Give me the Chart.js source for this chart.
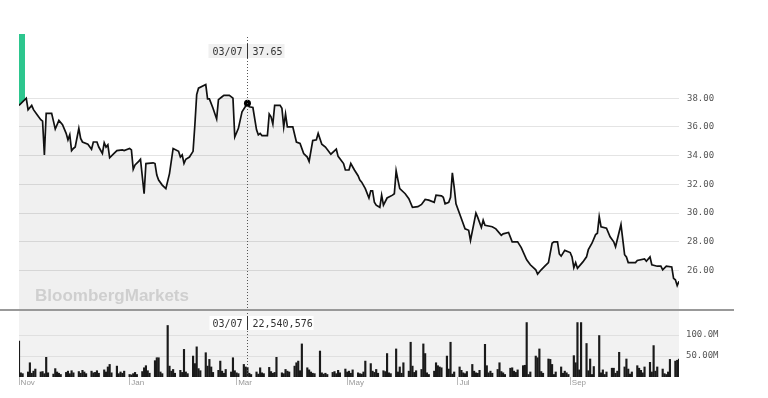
<!DOCTYPE html>
<html lang="en">

<head>
  <meta charset="UTF-8">
  <title>Price and volume</title>
  <style>
    body {
      margin: 0;
      background: #fff;
      width: 768px;
      height: 398px;
      overflow: hidden;
      position: relative;
      font-family: "Liberation Sans", Arial, sans-serif;
    }

    #priceBox {
      position: absolute;
      left: 0;
      top: 0;
      width: 768px;
      height: 310px;
    }

    #volBox {
      position: absolute;
      left: 0;
      top: 310px;
      width: 768px;
      height: 88px;
    }

    .divider {
      position: absolute;
      left: 0;
      top: 309px;
      width: 734px;
      height: 2px;
      background: #999;
    }

    .brand {
      position: absolute;
      left: 35px;
      top: 286px;
      font: bold 17px "Liberation Sans", Arial, sans-serif;
      color: #cfcfcf;
    }
  </style>
  <script src="https://cdn.jsdelivr.net/npm/chart.js"></script>
</head>

<body>
  <div id="priceBox"><canvas id="priceChart"></canvas></div>
  <div id="volBox"><canvas id="volChart"></canvas></div>
  <div class="brand">BloombergMarkets</div>
  <div class="divider"></div>

  <script>
    // days counted from 2017-11-01
    const priceDays = [
      0, 4, 5, 7, 8, 10, 12, 13, 14, 15,
      18, 19, 20, 22, 24, 26, 27, 28, 29, 30,
      31, 33, 34, 35, 38, 40, 41, 43, 44, 46,
      47, 48, 49, 50, 52, 54, 57, 58, 61, 62,
      63, 64, 66, 67, 69, 70, 74, 75, 76, 77,
      79, 81, 83, 85, 88, 89, 90, 91, 92, 94,
      96, 97, 98, 99, 103, 104, 105, 107, 109, 110,
      112, 113, 116, 118, 119, 121, 123, 126, 127, 129,
      131, 132, 133, 134, 137, 138, 139, 140, 141, 144,
      145, 146, 147, 148, 151, 153, 155, 157, 159, 160,
      162, 164, 165, 167, 169, 172, 175, 176, 179, 180,
      182, 183, 185, 187, 188, 189, 191, 193, 194, 195,
      196, 197, 199, 200, 201, 203, 206, 207, 208, 209,
      210, 213, 215, 217, 220, 222, 224, 226, 229, 230,
      233, 234, 235, 237, 238, 239, 240, 241, 243, 244,
      246, 248, 249, 252, 253, 255, 256, 257, 261, 263,
      266, 267, 270, 272, 275, 277, 280, 282, 285, 286,
      288, 290, 292, 294, 295, 297, 298, 299, 301, 304,
      305, 306, 307, 308, 311, 313, 314, 316, 318, 319,
      320, 321, 324, 326, 328, 329, 332, 334, 335, 336,
      340, 341, 345, 346, 348, 349, 352, 354, 355, 357,
      360, 361, 362, 363, 364
    ];
    const prices = [
      37.5, 38.0, 37.2, 37.5, 37.2, 36.85, 36.5, 36.4, 34.05, 36.95,
      36.95, 36.4, 35.85, 36.45, 36.15, 35.55, 35.1, 35.45, 34.35, 34.5,
      34.6, 35.9, 35.2, 34.95, 34.8, 34.45, 34.95, 34.95, 34.6, 34.15,
      34.9, 34.6, 34.75, 33.85, 34.1, 34.35, 34.4, 34.35, 34.5, 34.4,
      33.05, 33.35, 33.6, 33.75, 31.35, 33.45, 33.5, 33.45, 32.65, 32.3,
      31.95, 31.7, 32.75, 34.5, 34.3, 33.9, 34.05, 33.45, 33.75, 33.9,
      34.3, 36.15, 38.25, 38.7, 38.95, 37.95, 37.95, 37.3, 36.55, 37.9,
      38.1, 38.2, 38.2, 38.0, 35.3, 35.9, 37.05, 37.65, 37.4, 37.35,
      35.8, 35.45, 35.55, 35.4, 35.4, 36.9, 36.7, 36.2, 37.5, 37.5,
      37.3, 36.0, 36.9, 36.0, 36.0, 34.95, 34.85, 34.15, 33.9, 33.6,
      35.05, 35.1, 35.55, 34.8, 34.6, 34.1, 34.45, 33.95, 33.45, 33.0,
      33.0, 33.45, 33.0, 32.6, 32.3, 32.15, 31.7, 31.05, 31.55, 31.55,
      30.75, 30.55, 30.4, 31.25, 30.55, 31.05, 31.25, 31.35, 32.95, 32.3,
      31.7, 31.35, 31.0, 30.4, 30.45, 30.6, 30.95, 30.9, 30.75, 31.25,
      31.2, 31.1, 30.65, 30.75, 31.1, 32.8, 31.8, 30.65, 29.95, 29.6,
      28.9, 28.8, 28.1, 30.0, 29.7, 29.0, 29.5, 29.15, 29.05, 28.9,
      28.45, 28.55, 28.65, 28.0, 28.0, 27.6, 26.75, 26.4, 26.05, 25.75,
      26.05, 26.3, 26.55, 27.9, 28.0, 28.0, 27.15, 27.0, 27.4, 27.25,
      26.95, 26.2, 26.55, 26.15, 26.6, 26.95, 27.45, 27.9, 28.5, 28.6,
      29.75, 29.05, 28.95, 28.35, 28.0, 27.65, 29.2, 27.1, 26.95, 26.55,
      26.55, 26.7, 26.8, 26.65, 26.95, 26.4, 26.3, 26.3, 26.05, 26.3,
      26.25, 25.45, 25.35, 24.95, 25.25
    ];

    // daily volume in millions, one per weekday from 2017-11-01 to 2018-10-31
    const volumes = [
      86, 10, 8, 12, 34, 9, 14, 19, 12, 13, 8, 47, 10, 7, 20, 12, 9, 6, 11, 14,
      8, 15, 10, 13, 9, 16, 12, 8, 14, 10, 11, 15, 9, 17, 12, 24, 30, 10, 26, 8,
      12, 9, 14, 6, 5, 8, 11, 6, 13, 22, 27, 15, 9, 39, 46, 46, 12, 8, 123, 26,
      14, 18, 9, 16, 11, 66, 12, 8, 50, 32, 72, 20, 15, 58, 26, 42, 24, 11, 16, 38,
      14, 9, 18, 12, 46, 15, 10, 8, 30, 24, 22.540576, 9, 6, 12, 7, 22, 10, 8, 23, 13,
      9, 11, 47, 10, 8, 18, 14, 12, 26, 34, 38, 15, 79, 22, 17, 12, 9, 8, 62, 10,
      7, 9, 6, 11, 13, 8, 16, 10, 19, 12, 14, 9, 17, 10, 8, 7, 12, 38, 32, 14,
      11, 18, 9, 15, 13, 56, 10, 8, 67, 12, 24, 9, 34, 14, 83, 26, 11, 15, 18, 79,
      56, 10, 6, 14, 34, 27, 24, 22, 50, 19, 83, 7, 12, 24, 16, 10, 8, 13, 30, 14,
      10, 9, 16, 78, 27, 10, 14, 9, 18, 34, 13, 10, 6, 21, 22, 14, 11, 17, 27, 28,
      130, 6, 12, 50, 46, 67, 13, 9, 43, 42, 30, 6, 12, 24, 9, 14, 10, 6, 51, 34,
      130, 17, 130, 80, 15, 43, 6, 25, 99, 10, 17, 6, 12, 21, 21, 9, 14, 59, 24, 43,
      19, 7, 12, 27, 21, 16, 10, 24, 35, 12, 75, 14, 24, 19, 8, 6, 12, 42, 38, 40, 43
    ];

    const priceTicks = [26, 28, 30, 32, 34, 36, 38];
    const volTicks = [50e6, 100e6];
    const monthDays = [0, 61, 120, 181, 242, 304];
    const monthLabels = ['Nov', 'Jan', 'Mar', 'May', 'Jul', 'Sep'];
    const markLabel = '03/07';

    // weekdays for the volume bars
    const volDays = [];
    for (let d = 0; d <= 364; d++) {
      const wd = new Date(2017, 10, 1 + d).getDay();
      if (wd !== 0 && wd !== 6) volDays.push(d);
    }
    const markDay = Math.round((new Date(2018, 2, 7) - new Date(2017, 10, 1)) / 86400000);
    const markPrice = prices[priceDays.indexOf(markDay)];
    const markVolume = Math.round(volumes[volDays.indexOf(markDay)] * 1e6);

    const monoFont = '"DejaVu Sans Mono", monospace';

    function fixWidth(scale) {
      scale.width = 60;
      scale.paddingTop = 0;
      scale.paddingBottom = 0;
    }

    const paneBg = {
      id: 'paneBg',
      beforeDraw(chart, args, opts) {
        if (!opts.color) return;
        const { ctx, chartArea: a } = chart;
        ctx.save();
        ctx.fillStyle = opts.color;
        ctx.fillRect(a.left, a.top, a.right - a.left, a.bottom - a.top);
        ctx.restore();
      }
    };

    const startMark = {
      id: 'startMark',
      beforeDatasetsDraw(chart, args, opts) {
        if (!opts.color) return;
        const { ctx, chartArea: a, scales: { x, y } } = chart;
        const x0 = x.getPixelForValue(priceDays[0]);
        const x1 = x.getPixelForValue(priceDays[1]);
        const y0 = y.getPixelForValue(prices[0]);
        const y1 = y.getPixelForValue(prices[1]);
        const w = 6;
        const yw = y0 + (y1 - y0) * w / (x1 - x0);
        ctx.save();
        ctx.fillStyle = opts.color;
        ctx.beginPath();
        ctx.moveTo(x0, a.top + 4);
        ctx.lineTo(x0 + w, a.top + 4);
        ctx.lineTo(x0 + w, yw);
        ctx.lineTo(x0, y0);
        ctx.closePath();
        ctx.fill();
        ctx.restore();
      }
    };

    const crosshair = {
      id: 'crosshair',
      afterDatasetsDraw(chart, args, opts) {
        if (!opts.text) return;
        const { ctx, chartArea: a, scales } = chart;
        const x = Math.round(scales.x.getPixelForValue(markDay)) + 0.5;
        ctx.save();
        ctx.strokeStyle = '#555';
        ctx.lineWidth = 1;
        ctx.setLineDash([1, 2]);
        ctx.beginPath();
        ctx.moveTo(x, opts.top);
        ctx.lineTo(x, a.bottom);
        ctx.stroke();
        ctx.setLineDash([]);
        ctx.fillStyle = opts.boxColor;
        ctx.fillRect(x - opts.left, opts.y - 7, opts.left + opts.right, 14);
        ctx.strokeStyle = '#333';
        ctx.beginPath();
        ctx.moveTo(x, opts.y - 7);
        ctx.lineTo(x, opts.y + 7);
        ctx.stroke();
        ctx.font = '10px ' + monoFont;
        ctx.fillStyle = '#333';
        ctx.textBaseline = 'middle';
        ctx.textAlign = 'right';
        ctx.fillText(markLabel, x - 5, opts.y + 1);
        ctx.textAlign = 'left';
        ctx.fillText(opts.text, x + 5, opts.y + 1);
        ctx.restore();
      }
    };

    Chart.register(paneBg, startMark, crosshair);

    new Chart(document.getElementById('priceChart'), {
      type: 'line',
      data: {
        datasets: [{
          data: priceDays.map((d, i) => ({ x: d, y: prices[i] })),
          borderColor: '#111',
          borderWidth: 1.7,
          backgroundColor: 'rgba(0,0,0,0.06)',
          fill: 'start',
          tension: 0,
          pointRadius: ctx => priceDays[ctx.dataIndex] === markDay ? 3.5 : 0,
          pointBackgroundColor: '#000',
          pointBorderWidth: 0
        }]
      },
      options: {
        responsive: true,
        maintainAspectRatio: false,
        animation: false,
        layout: { padding: { left: 19, right: 29, top: 30, bottom: 0 } },
        plugins: {
          legend: { display: false },
          tooltip: { enabled: false },
          startMark: { color: '#2dc68e' },
          crosshair: { text: markPrice.toFixed(2), top: 37, y: 51, left: 39, right: 37, boxColor: '#f0f0f0' }
        },
        scales: {
          x: { type: 'linear', min: 0, max: 364, display: false },
          y: {
            position: 'right',
            min: 23.25,
            max: 42.75,
            afterBuildTicks: s => { s.ticks = priceTicks.map(v => ({ value: v })); },
            afterFit: fixWidth,
            grid: { color: '#e4e4e4', drawTicks: false },
            border: { display: false },
            ticks: {
              padding: 8,
              color: '#555',
              font: { family: monoFont, size: 9 },
              callback: v => v.toFixed(2)
            }
          }
        }
      }
    });

    new Chart(document.getElementById('volChart'), {
      type: 'bar',
      data: {
        datasets: [{
          data: volDays.map((d, i) => ({ x: d, y: volumes[i] * 1e6 })),
          backgroundColor: '#1a1a1a',
          barThickness: 1.5
        }]
      },
      options: {
        responsive: true,
        maintainAspectRatio: false,
        animation: false,
        layout: { padding: { left: 19, right: 29, top: 0, bottom: 0 } },
        plugins: {
          legend: { display: false },
          tooltip: { enabled: false },
          paneBg: { color: '#f2f2f2' },
          crosshair: { text: markVolume.toLocaleString('en-US'), top: 0, y: 13, left: 38, right: 66, boxColor: '#fff' }
        },
        scales: {
          x: {
            type: 'linear',
            min: 0,
            max: 364,
            offset: false,
            afterBuildTicks: s => { s.ticks = monthDays.map(v => ({ value: v })); },
            afterFit: s => { s.height = 21; s.paddingLeft = 0; s.paddingRight = 0; },
            grid: { drawOnChartArea: false, offset: false, tickLength: 8, color: '#bbb' },
            border: { display: false },
            ticks: {
              align: 'start',
              padding: -7,
              autoSkip: false,
              maxRotation: 0,
              color: '#999',
              font: { family: '"Liberation Sans", Arial, sans-serif', size: 8 },
              callback: v => '\u2009' + monthLabels[monthDays.indexOf(v)]
            }
          },
          y: {
            position: 'right',
            min: 0,
            max: 160e6,
            afterBuildTicks: s => { s.ticks = volTicks.map(v => ({ value: v })); },
            afterFit: fixWidth,
            grid: { color: '#e0e0e0', drawTicks: false },
            border: { display: false },
            ticks: {
              padding: 7,
              color: '#555',
              font: { family: monoFont, size: 9 },
              callback: v => (v / 1e6).toPrecision(4) + 'M'
            }
          }
        }
      }
    });
  </script>
</body>

</html>
